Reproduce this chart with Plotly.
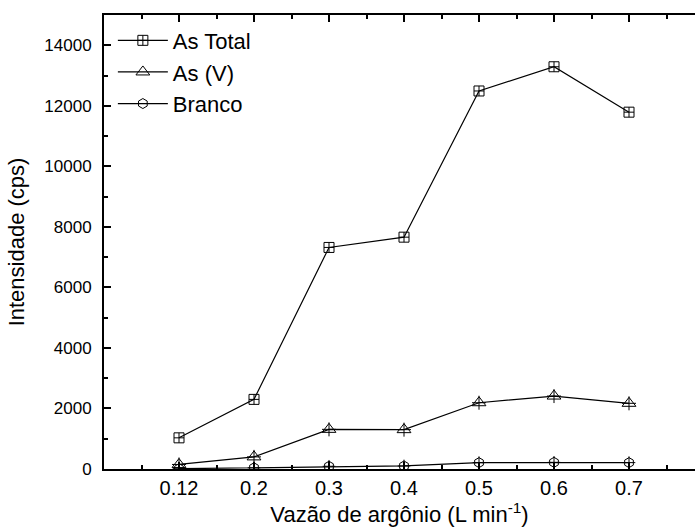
import plotly.graph_objects as go

categories = ["0.12", "0.2", "0.3", "0.4", "0.5", "0.6", "0.7"]
as_total = [1030, 2300, 7320, 7660, 12490, 13290, 11790]
as_v = [150, 400, 1310, 1300, 2190, 2410, 2170]
branco = [10, 40, 90, 100, 210, 220, 210]

y_ticks = [0, 2000, 4000, 6000, 8000, 10000, 12000, 14000]

xpos = list(range(1, len(categories) + 1))

fig = go.Figure()
series = [
    ("As Total", as_total, "square-cross-open", 10),
    ("As (V)", as_v, "triangle-up-open", 12),
    ("Branco", branco, "hexagon-open", 10),
]
for name, vals, sym, sz in series:
    fig.add_trace(go.Scatter(
        x=xpos, y=vals, name=name, mode="lines+markers",
        line=dict(color="black", width=1.2),
        marker=dict(symbol=sym, size=sz, color="black", line=dict(color="black", width=1)),
    ))
# inner crosses of the triangle and hexagon markers
for vals, sz in [(as_v, 10), (branco, 9)]:
    fig.add_trace(go.Scatter(
        x=xpos, y=vals, mode="markers", showlegend=False, hoverinfo="skip",
        marker=dict(symbol="cross-thin-open", size=sz, color="black", line=dict(color="black", width=1)),
    ))

fig.update_layout(
    width=695, height=531,
    margin=dict(l=104, r=0, t=15, b=62),
    paper_bgcolor="white", plot_bgcolor="white",
    font=dict(family="Liberation Sans, Arial, sans-serif", size=18, color="black"),
    legend=dict(x=0.015, y=0.99, xanchor="left", yanchor="top",
                bgcolor="rgba(0,0,0,0)", font=dict(size=22),
                tracegroupgap=0, itemwidth=50),
    showlegend=True,
)
fig.update_xaxes(
    range=[0, 7.88], tickvals=xpos, ticktext=categories,
    ticks="inside", ticklen=7, tickwidth=1.5, tickcolor="black",
    minor=dict(tick0=0.5, dtick=1, ticks="inside", ticklen=4, tickwidth=1.5, tickcolor="black"),
    showline=True, linecolor="black", linewidth=2, mirror="ticks",
    showgrid=False, zeroline=False,
    tickfont=dict(size=20), ticklabelstandoff=0,
    title=dict(text="Vazão de argônio (L min<sup>-1</sup>)", font=dict(size=22), standoff=8),
)
fig.update_yaxes(
    range=[0, 15000], tickvals=y_ticks, ticktext=[str(v) for v in y_ticks],
    ticks="inside", ticklen=7, tickwidth=1.5, tickcolor="black",
    minor=dict(dtick=1000, tick0=0, ticks="inside", ticklen=4, tickwidth=1.5, tickcolor="black"),
    showline=True, linecolor="black", linewidth=2,
    showgrid=False, zeroline=False,
    tickfont=dict(size=17), ticklabelstandoff=7,
    title=dict(text="Intensidade (cps)", font=dict(size=22), standoff=14),
)

fig.write_html("out.html", config={"displayModeBar": False},
               post_script="document.body.style.margin='0';")
